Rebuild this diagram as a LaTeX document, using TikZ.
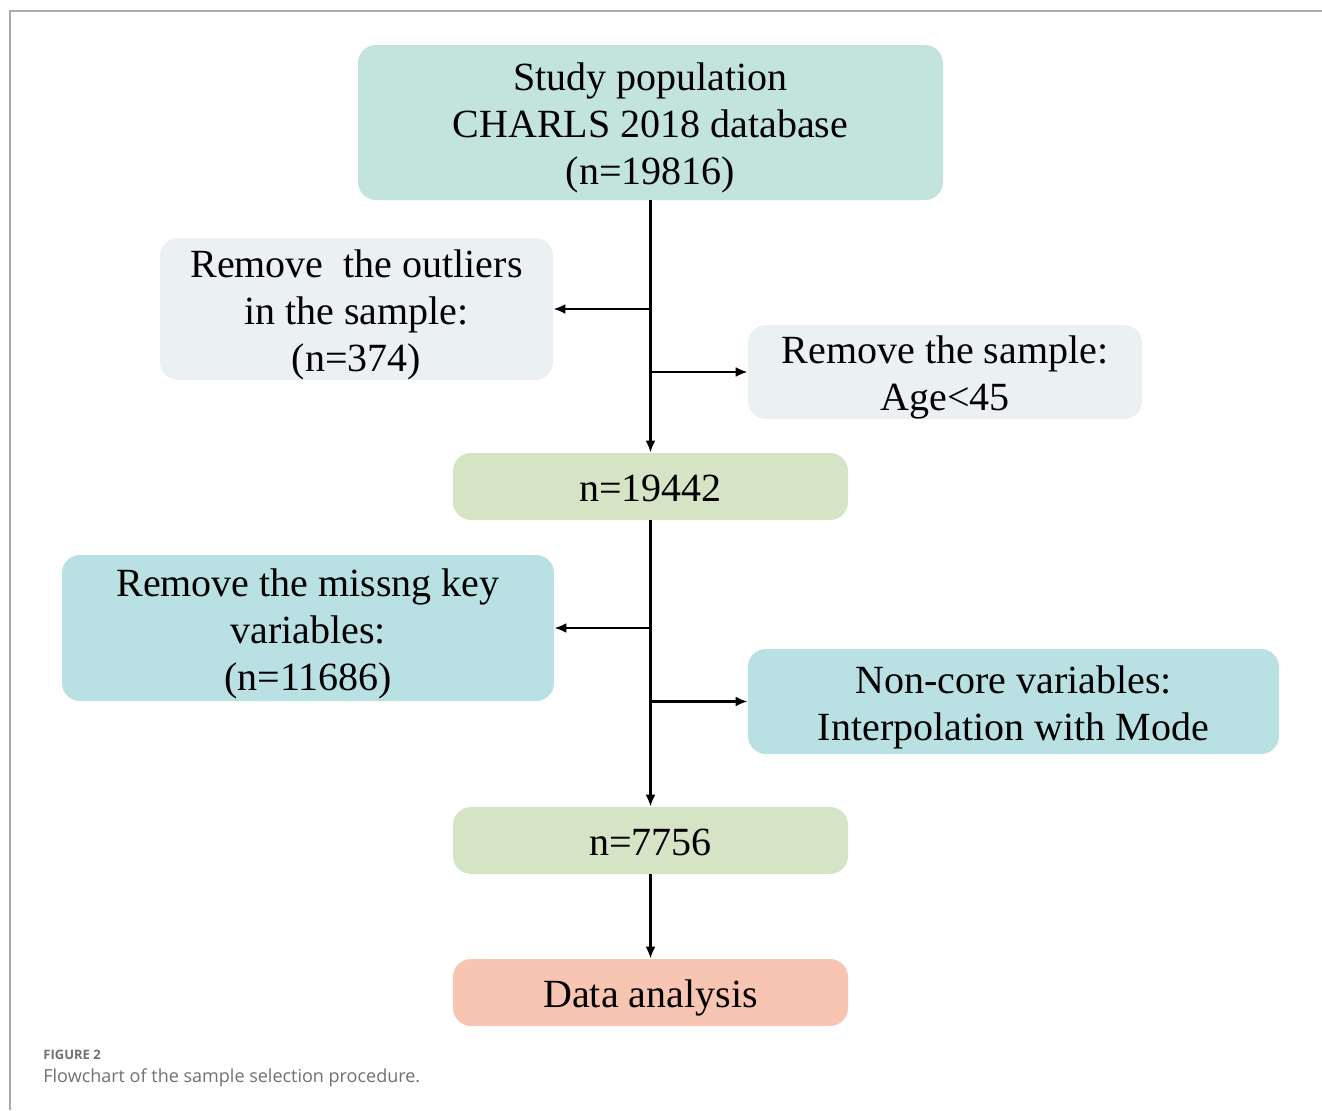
\documentclass[tikz,border=0pt]{standalone}
\usepackage{fontspec}
\setmainfont{Liberation Serif}
\newfontfamily\capfont{Open Sans}
\usetikzlibrary{arrows.meta}
\definecolor{cteal}{HTML}{C3E4DD}
\definecolor{cgrey}{HTML}{EBF0F2}
\definecolor{cgreen}{HTML}{D6E4C6}
\definecolor{cblue}{HTML}{B9E0E3}
\definecolor{csalmon}{HTML}{F7C5B2}
\definecolor{cframe}{HTML}{AAAAAA}
\definecolor{ccap}{HTML}{707070}
\newcommand\boxtext[1]{\raisebox{-2.8pt}[\height][\depth]{\begin{tabular}{@{}c@{}}#1\end{tabular}}}
\tikzset{
  fbox/.style={rounded corners=9pt, inner sep=0pt,
    font=\fontsize{20}{23.5}\selectfont},
  arr/.style={line width=1.2pt, -{Latex[length=6pt,width=5pt]}},
}
\begin{document}
\begin{tikzpicture}[x=0.5pt,y=-0.5pt]
\useasboundingbox (0,0) rectangle (1322,1110);
\draw[cframe, line width=1pt] (10,1110) -- (10,11) -- (1322,11);
\node[fbox, fill=cteal, minimum width=292.5pt, minimum height=77.5pt] (a) at (650.5,122.5)
  {\boxtext{Study population\\CHARLS 2018 database\\(n=19816)}};
\node[fbox, fill=cgrey, minimum width=196.5pt, minimum height=71pt] (o1) at (356.5,309)
  {\boxtext{Remove\ \ the outliers\\in the sample:\\(n=374)}};
\node[fbox, fill=cgrey, minimum width=197pt, minimum height=45pt] (s1) at (945,372)
  {\boxtext{Remove the sample:\\Age<45}};
\node[fbox, fill=cgreen, minimum width=197.5pt, minimum height=33.5pt] (b) at (650.5,486.5)
  {\boxtext{n=19442}};
\node[fbox, fill=cblue, minimum width=246pt, minimum height=73pt] (o2) at (308,628)
  {\boxtext{Remove the missng key\\variables:\\(n=11686)}};
\node[fbox, fill=cblue, minimum width=265.5pt, minimum height=52.5pt] (s2) at (1013.5,701.5)
  {\boxtext{Non-core variables:\\Interpolation with Mode}};
\node[fbox, fill=cgreen, minimum width=197.5pt, minimum height=33.5pt] (c) at (650.5,840.5)
  {\boxtext{n=7756}};
\node[fbox, fill=csalmon, minimum width=197.5pt, minimum height=33.5pt] (d) at (650.5,992.5)
  {\boxtext{Data analysis}};
\draw[arr] (a.south) -- (b.north);
\draw[arr] (a.south |- o1.east) -- (o1.east);
\draw[arr] (a.south |- s1.west) -- (s1.west);
\draw[arr] (b.south) -- (c.north);
\draw[arr] (b.south |- o2.east) -- (o2.east);
\draw[arr] (b.south |- s2.west) -- (s2.west);
\draw[arr] (c.south) -- (d.north);
\node[anchor=west, inner sep=0pt, text=ccap, font=\capfont\fontsize{6.5}{8}\selectfont\bfseries] (fig) at (43,1055) {FIGURE 2};
\node[anchor=west, inner sep=0pt, text=ccap, font=\capfont\fontsize{9}{11}\selectfont] (cap) at (43,1078) {Flowchart of the sample selection procedure.};
\end{tikzpicture}
\end{document}
